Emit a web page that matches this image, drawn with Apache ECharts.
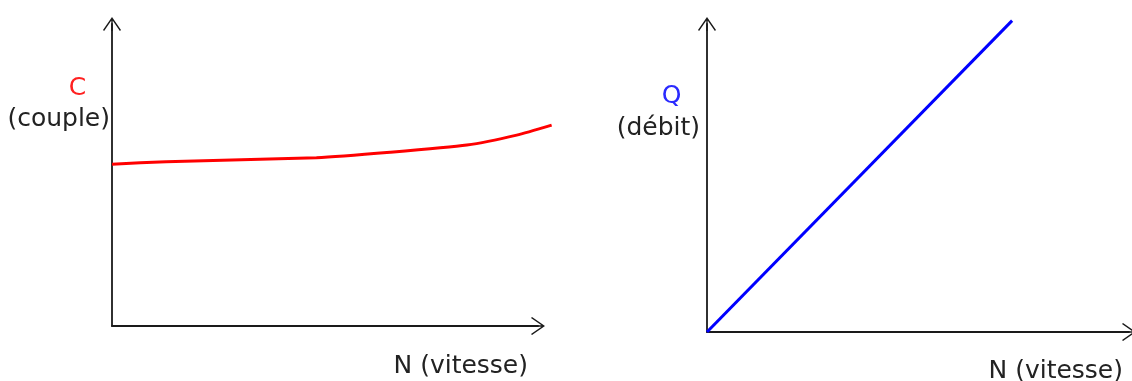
<!DOCTYPE html>
<html>
<head>
<meta charset="utf-8">
<title>C et Q en fonction de N</title>
<script src="https://cdn.jsdelivr.net/npm/echarts@6/dist/echarts.min.js"></script>
<style>
    html, body { margin: 0; padding: 0; background: #ffffff; }
    #main { width: 1132px; height: 381px; }
</style>
</head>
<body>
<div id="main"></div>
<script>
// couple C en fonction de la vitesse N (unites relatives 0..100)
var coupleN = [0, 12.7, 48, 65.3, 83.3, 95, 103.2];
var coupleC = [53.6, 54.4, 55.7, 57.5, 59.9, 63.2, 66.5];
// debit Q en fonction de la vitesse N
var debitN = [0, 72.3];
var debitQ = [0, 101.1];

var chart = echarts.init(document.getElementById('main'));

// fleche ouverte (chevron) + tige, pointe vers le haut
var arrowPath = 'path://M9,0 L18,13 L16.9,14 L9,2.4 L1.1,14 L0,13 Z M8.3,1 L9.7,1 L9.7,14 L8.3,14 Z';

// axe visible avec fleche (grilles 0 et 1)
function axe(grid) {
    return {
        type: 'value',
        gridIndex: grid,
        min: 0,
        max: 100,
        axisLine: {
            show: true,
            symbol: ['none', arrowPath],
            symbolSize: [18, 14],
            lineStyle: { color: '#1a1a1a', width: 1.8 }
        },
        axisTick: { show: false },
        axisLabel: { show: false },
        splitLine: { show: false }
    };
}

// axe cache, meme echelle mais plus long : les courbes depassent la fleche
function axeCache(grid, max) {
    return { type: 'value', gridIndex: grid, min: 0, max: max, show: false };
}

function pts(xs, ys) {
    var out = [];
    for (var i = 0; i < xs.length; i++) out.push([xs[i], ys[i]]);
    return out;
}

function texte(x, y, txt, color, align) {
    return {
        type: 'text',
        silent: true,
        style: {
            x: x, y: y, text: txt, fill: color,
            font: '25px "DejaVu Sans"',
            textAlign: align, textVerticalAlign: 'middle'
        }
    };
}

var option = {
    backgroundColor: '#ffffff',
    animation: false,
    grid: [
        { left: 112, top: 24, width: 426, height: 302 },
        { left: 707, top: 24, width: 422, height: 308 },
        { left: 112, top: 24, width: 468.6, height: 302 },  // 0..110 en x
        { left: 707, top: 0, width: 422, height: 332 }      // 0..107.8 en y
    ],
    xAxis: [axe(0), axe(1), axeCache(2, 110), axeCache(3, 100)],
    yAxis: [axe(0), axe(1), axeCache(2, 100), axeCache(3, 107.8)],
    graphic: [
        texte(77.5, 88, 'C', '#ff2020', 'center'),
        texte(110, 119, '(couple)', '#222', 'right'),
        texte(528, 366, 'N (vitesse)', '#222', 'right'),
        texte(671.5, 96, 'Q', '#2a2aff', 'center'),
        texte(700, 128, '(débit)', '#222', 'right'),
        texte(1123, 371, 'N (vitesse)', '#222', 'right')
    ],
    series: [
        {
            name: 'C (couple)',
            type: 'line',
            xAxisIndex: 2,
            yAxisIndex: 2,
            data: pts(coupleN, coupleC),
            showSymbol: false,
            smooth: 0.2,
            clip: false,
            lineStyle: { color: '#ff0000', width: 3 }
        },
        {
            name: 'Q (débit)',
            type: 'line',
            xAxisIndex: 3,
            yAxisIndex: 3,
            data: pts(debitN, debitQ),
            showSymbol: false,
            clip: false,
            lineStyle: { color: '#0000ff', width: 3 }
        }
    ]
};
chart.setOption(option);
</script>
</body>
</html>
